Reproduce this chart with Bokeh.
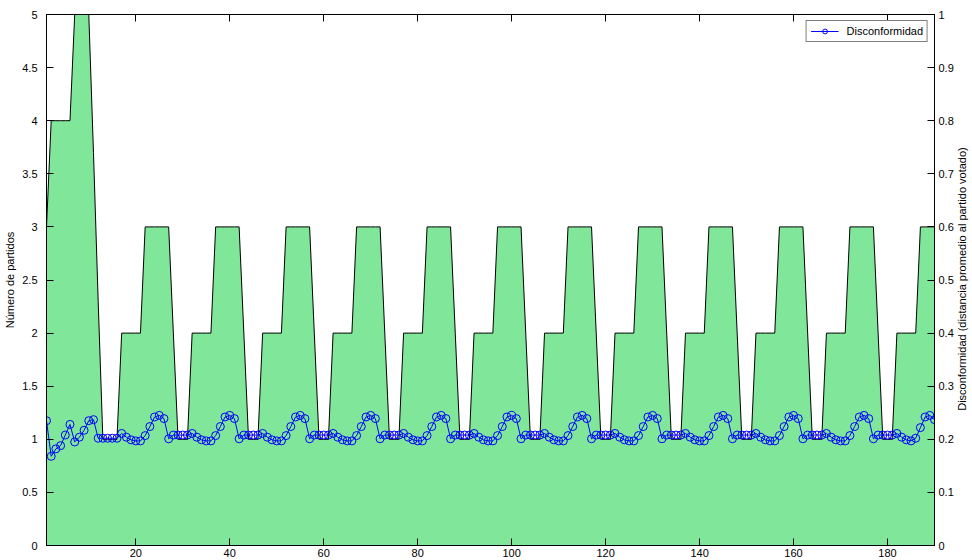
from bokeh.plotting import figure
from bokeh.models import Range1d, LinearAxis, FixedTicker, Legend, LegendItem, Div
from bokeh.layouts import row
from bokeh.embed import file_html
from bokeh.resources import INLINE

# Iteration index (1..190)
iteracion = list(range(1, 191))

# Number of parties at each iteration (left axis)
partidos = [
    3, 4, 4, 4, 4, 4, 5, 5, 5, 5, 3.7, 2.3, 1, 1, 1, 1, 2, 2, 2, 2, 2,
    3, 3, 3, 3, 3, 3, 2, 1, 1, 1, 2, 2, 2, 2, 2,
    3, 3, 3, 3, 3, 3, 2, 1, 1, 1, 2, 2, 2, 2, 2,
    3, 3, 3, 3, 3, 3, 2, 1, 1, 1, 2, 2, 2, 2, 2,
    3, 3, 3, 3, 3, 3, 2, 1, 1, 1, 2, 2, 2, 2, 2,
    3, 3, 3, 3, 3, 3, 2, 1, 1, 1, 2, 2, 2, 2, 2,
    3, 3, 3, 3, 3, 3, 2, 1, 1, 1, 2, 2, 2, 2, 2,
    3, 3, 3, 3, 3, 3, 2, 1, 1, 1, 2, 2, 2, 2, 2,
    3, 3, 3, 3, 3, 3, 2, 1, 1, 1, 2, 2, 2, 2, 2,
    3, 3, 3, 3, 3, 3, 2, 1, 1, 1, 2, 2, 2, 2, 2,
    3, 3, 3, 3, 3, 3, 2, 1, 1, 1, 2, 2, 2, 2, 2,
    3, 3, 3, 3, 3, 3, 2, 1, 1, 1, 2, 2, 2, 2, 2,
    3, 3, 3, 3,
]

# Disconformity: mean distance to the voted party (right axis)
disconformidad = [
    0.235, 0.168, 0.182, 0.188, 0.208, 0.228, 0.195, 0.204, 0.217, 0.235, 0.237,
    0.202, 0.202, 0.202, 0.202, 0.202,
    0.211, 0.204, 0.199, 0.197, 0.197,
    0.207, 0.224, 0.242, 0.245, 0.239, 0.201, 0.208, 0.208, 0.208, 0.208, 0.211, 0.204, 0.199, 0.197, 0.197,
    0.207, 0.224, 0.242, 0.245, 0.239, 0.201, 0.208, 0.208, 0.208, 0.208, 0.211, 0.204, 0.199, 0.197, 0.197,
    0.207, 0.224, 0.242, 0.245, 0.239, 0.201, 0.208, 0.208, 0.208, 0.208, 0.211, 0.204, 0.199, 0.197, 0.197,
    0.207, 0.224, 0.242, 0.245, 0.239, 0.201, 0.208, 0.208, 0.208, 0.208, 0.211, 0.204, 0.199, 0.197, 0.197,
    0.207, 0.224, 0.242, 0.245, 0.239, 0.201, 0.208, 0.208, 0.208, 0.208, 0.211, 0.204, 0.199, 0.197, 0.197,
    0.207, 0.224, 0.242, 0.245, 0.239, 0.201, 0.208, 0.208, 0.208, 0.208, 0.211, 0.204, 0.199, 0.197, 0.197,
    0.207, 0.224, 0.242, 0.245, 0.239, 0.201, 0.208, 0.208, 0.208, 0.208, 0.211, 0.204, 0.199, 0.197, 0.197,
    0.207, 0.224, 0.242, 0.245, 0.239, 0.201, 0.208, 0.208, 0.208, 0.208, 0.211, 0.204, 0.199, 0.197, 0.197,
    0.207, 0.224, 0.242, 0.245, 0.239, 0.201, 0.208, 0.208, 0.208, 0.208, 0.211, 0.204, 0.199, 0.197, 0.197,
    0.207, 0.224, 0.242, 0.245, 0.239, 0.201, 0.208, 0.208, 0.208, 0.208, 0.211, 0.204, 0.199, 0.197, 0.197,
    0.207, 0.224, 0.242, 0.245, 0.239, 0.201, 0.208, 0.208, 0.208, 0.208, 0.211, 0.204, 0.199, 0.197, 0.202,
    0.222, 0.242, 0.245, 0.237,
]

x_ticks = [20, 40, 60, 80, 100, 120, 140, 160, 180]
left_ticks = [0, 0.5, 1, 1.5, 2, 2.5, 3, 3.5, 4, 4.5, 5]
left_labels = ["0", "0.5", "1", "1.5", "2", "2.5", "3", "3.5", "4", "4.5", "5"]
right_ticks = [0, 0.1, 0.2, 0.3, 0.4, 0.5, 0.6, 0.7, 0.8, 0.9, 1]
right_labels = ["0", "0.1", "0.2", "0.3", "0.4", "0.5", "0.6", "0.7", "0.8", "0.9", "1"]
right_title = "Disconformidad (distancia promedio al partido votado)"

FONT = "Liberation Sans"
FS = "11px"

PLOT_W = 956
TITLE_W = 16

p = figure(width=PLOT_W, height=560, output_backend="svg", toolbar_location=None,
           x_range=Range1d(1, 190), y_range=Range1d(0, 5),
           min_border_left=46, min_border_right=21, min_border_top=14, min_border_bottom=15)
p.extra_y_ranges = {"disc": Range1d(0, 1)}
p.grid.visible = False
p.outline_line_color = "black"
p.outline_line_width = 1
p.background_fill_color = "white"
p.border_fill_color = "white"


def style_axis(ax):
    ax.major_tick_in = 7
    ax.major_tick_out = 0
    ax.minor_tick_line_color = None
    ax.axis_line_color = "black"
    ax.major_tick_line_color = "black"
    ax.major_label_text_font = FONT
    ax.major_label_text_font_size = FS
    ax.major_label_text_color = "black"
    ax.axis_label_text_font = FONT
    ax.axis_label_text_font_size = FS
    ax.axis_label_text_font_style = "normal"
    ax.axis_label_text_color = "black"


# Bottom axis
xa = p.xaxis[0]
xa.ticker = FixedTicker(ticks=x_ticks)
style_axis(xa)
xa.major_label_standoff = 3

# Left axis
ya = p.yaxis[0]
ya.ticker = FixedTicker(ticks=left_ticks)
ya.major_label_overrides = {t: s for t, s in zip(left_ticks, left_labels)}
ya.axis_label = "Número de partidos"
style_axis(ya)
ya.major_label_standoff = 9
ya.axis_label_standoff = 3

# Right axis (its title sits in a narrow column next to the plot, reading bottom-to-top)
ra = LinearAxis(y_range_name="disc", ticker=FixedTicker(ticks=right_ticks))
ra.major_label_overrides = {t: s for t, s in zip(right_ticks, right_labels)}
style_axis(ra)
ra.major_label_standoff = 4
p.add_layout(ra, "right")

# Top axis: tick marks only
ta = LinearAxis(ticker=FixedTicker(ticks=x_ticks))
style_axis(ta)
ta.major_label_text_font_size = "1px"
ta.major_label_text_color = None
ta.major_label_standoff = 0
p.add_layout(ta, "above")

# Number of parties as a filled area
p.varea(x=iteracion, y1=[0] * len(iteracion), y2=partidos, fill_color="#80E699", fill_alpha=1.0)
p.line(x=iteracion, y=partidos, line_color="black", line_width=1)

# Disconformity series
dl = p.line(x=iteracion, y=disconformidad, line_color="#0000FF", line_width=1, y_range_name="disc")
dm = p.scatter(x=iteracion, y=disconformidad, marker="circle", size=8, fill_color=None,
               line_color="#0000FF", line_width=1, y_range_name="disc")

legend = Legend(items=[LegendItem(label="Disconformidad", renderers=[dl, dm])],
                location="top_right")
legend.label_text_font = FONT
legend.label_text_font_size = FS
legend.label_text_color = "black"
legend.border_line_color = "black"
legend.border_line_width = 1
legend.background_fill_color = "white"
legend.background_fill_alpha = 1.0
legend.margin = 6
legend.padding = 4
legend.spacing = 0
legend.glyph_width = 28
legend.glyph_height = 12
legend.label_height = 12
legend.label_standoff = 8
p.add_layout(legend)

# Rotated right-axis title, centred on the plot frame
title_html = (
    '<div style="position:absolute; left:6px; top:279px; '
    'transform:translate(-50%,-50%) rotate(-90deg); white-space:nowrap; '
    "font-family:'Liberation Sans'; font-size:11px; line-height:13px; color:black;\">"
    + right_title + "</div>"
)
titulo_derecho = Div(text=title_html, width=TITLE_W, height=560, margin=0,
                     styles={"overflow": "visible", "background-color": "white"})

layout = row(p, titulo_derecho, spacing=0)

open("out.html", "w").write(file_html(layout, INLINE))
